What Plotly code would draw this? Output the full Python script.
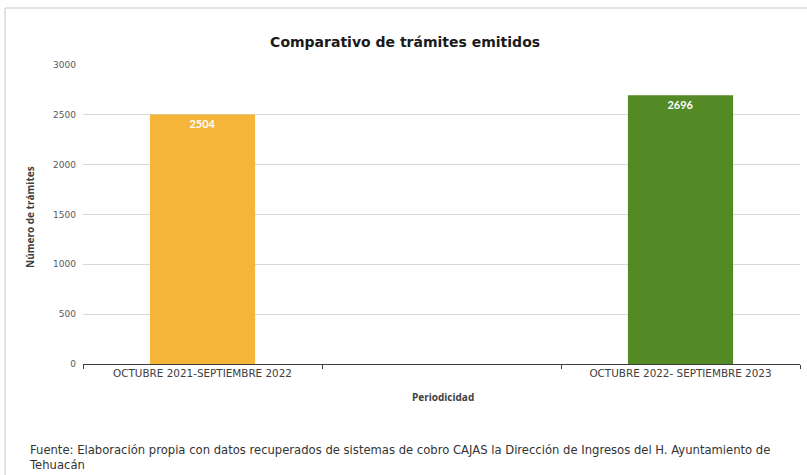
import plotly.graph_objects as go

categories = ["OCTUBRE 2021-SEPTIEMBRE 2022", " ", "OCTUBRE 2022- SEPTIEMBRE 2023"]
values = [2504, None, 2696]
bar_colors = ["#F4B539", "#FFFFFF", "#538A26"]
y_ticks = [0, 500, 1000, 1500, 2000, 2500, 3000]

W, H = 807, 475
L, R, T, B = 83, 7, 65, 111
pw, ph = W - L - R, H - T - B

def px_x(x):
    return (x - L) / pw

def px_y(y):
    return (H - B - y) / ph

fig = go.Figure()
fig.add_trace(go.Bar(
    x=categories,
    y=values,
    marker=dict(color=bar_colors, line=dict(width=0)),
    width=0.44,
    text=[str(v) if v is not None else "" for v in values],
    textposition="inside",
    insidetextanchor="end",
    textfont=dict(family="Lato", size=11, color="white", weight="bold"),
    hoverinfo="x+y",
))

fig.update_layout(
    width=W, height=H,
    margin=dict(l=L, r=R, t=T, b=B),
    paper_bgcolor="white",
    plot_bgcolor="white",
    showlegend=False,
    font=dict(family="DejaVu Sans", color="#595959"),
    title=dict(
        text="Comparativo de trámites emitidos",
        x=0.502, xanchor="center",
        y=1 - 42 / H, yanchor="middle",
        font=dict(family="DejaVu Sans", size=14, color="#1a1a1a", weight="bold"),
    ),
    xaxis=dict(
        type="category",
        showline=True, linecolor="#404040", linewidth=1,
        ticks="outside", tickson="boundaries", ticklen=4, tickcolor="#404040",
        tickfont=dict(size=10.4, color="#404040"),
        showgrid=False,
        range=[-0.5, 2.5],
    ),
    yaxis=dict(
        range=[0, 3000],
        tickvals=y_ticks,
        tickfont=dict(size=9, color="#595959"),
        showgrid=True, gridcolor="#D9D9D9", gridwidth=1,
        showline=False, zeroline=False,
        ticks="", ticklabelstandoff=6,
    ),
    bargap=0.56,
)

fig.add_annotation(
    text="<b>Número de trámites</b>",
    xref="paper", yref="paper",
    x=px_x(30), y=px_y(217),
    textangle=-90, showarrow=False,
    font=dict(family="Open Sans", size=10, color="#404040"),
    xanchor="center", yanchor="middle",
)
fig.add_annotation(
    text="<b>Periodicidad</b>",
    xref="paper", yref="paper",
    x=px_x(443), y=px_y(397),
    showarrow=False,
    font=dict(family="Open Sans", size=10, color="#404040"),
    xanchor="center", yanchor="middle",
)
fig.add_annotation(
    text="Fuente: Elaboración propia con datos recuperados de sistemas de cobro CAJAS la Dirección de Ingresos del H. Ayuntamiento de<br>Tehuacán",
    xref="paper", yref="paper",
    x=px_x(27), y=px_y(441),
    showarrow=False, align="left",
    font=dict(family="DejaVu Sans", size=11.6, color="#333333"),
    xanchor="left", yanchor="top",
)
fig.add_shape(
    type="rect", xref="paper", yref="paper",
    x0=px_x(5), x1=px_x(810), y0=px_y(480), y1=px_y(8),
    line=dict(color="#C8C8C8", width=1), layer="below",
)

fig.write_html(
    "out.html",
    config={"displayModeBar": False},
    post_script="document.body.style.margin='0';",
)
